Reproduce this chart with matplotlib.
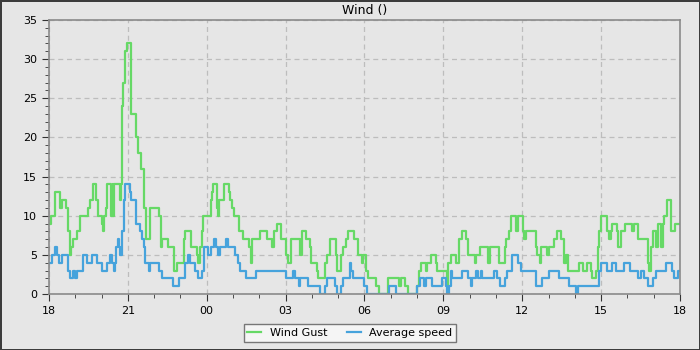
import matplotlib
matplotlib.use("Agg")
import matplotlib.pyplot as plt
from matplotlib.ticker import MultipleLocator

# hours after 18:00, value that holds until the next time
gust_hours = [0.00, 0.06, 0.23, 0.40, 0.43, 0.48, 0.64, 0.74, 0.80, 0.85, 0.90, 1.06, 1.18, 1.50,
              1.57, 1.66, 1.80, 1.85, 2.00, 2.05, 2.11, 2.15, 2.20, 2.37, 2.42, 2.45, 2.48, 2.70,
              2.74, 2.78, 2.83, 2.90, 2.96, 3.12, 3.32, 3.38, 3.50, 3.60, 3.70, 3.86, 4.18, 4.27,
              4.30, 4.52, 4.74, 4.88, 5.13, 5.18, 5.40, 5.62, 5.66, 5.74, 5.81, 5.87, 6.17, 6.19,
              6.23, 6.38, 6.42, 6.45, 6.65, 6.83, 6.90, 6.96, 7.03, 7.24, 7.37, 7.60, 7.68, 7.73,
              8.01, 8.31, 8.50, 8.56, 8.69, 8.82, 9.02, 9.08, 9.21, 9.53, 9.62, 9.78, 9.94, 9.97,
              10.19, 10.22, 10.51, 10.58, 10.67, 10.90, 10.94, 11.12, 11.19, 11.29, 11.37, 11.60,
              11.75, 11.92, 11.95, 12.05, 12.14, 12.44, 12.56, 12.91, 13.33, 13.38, 13.53, 13.65,
              14.01, 14.06, 14.14, 14.33, 14.39, 14.52, 14.71, 14.77, 15.15, 15.19, 15.28, 15.49,
              15.59, 15.70, 15.85, 15.95, 16.20, 16.23, 16.38, 16.71, 16.77, 17.11, 17.34, 17.40,
              17.49, 17.59, 17.77, 17.85, 18.04, 18.08, 18.13, 18.51, 18.57, 18.66, 18.73, 18.95,
              19.02, 19.20, 19.31, 19.46, 19.59, 19.65, 19.75, 20.16, 20.32, 20.45, 20.61, 20.67,
              20.80, 20.88, 20.92, 21.01, 21.22, 21.31, 21.37, 21.43, 21.60, 21.65, 21.75, 21.90,
              22.16, 22.26, 22.41, 22.77, 22.83, 22.90, 22.96, 23.09, 23.15, 23.28, 23.34, 23.41,
              23.50, 23.66, 23.82, 24.00]
gust_values = [9, 10, 13, 12, 11, 12, 11, 8, 5, 6, 7, 8, 10, 11,
               12, 14, 12, 10, 9, 8, 10, 11, 14, 10, 14, 10, 14, 12,
               14, 24, 27, 31, 32, 23, 20, 18, 16, 11, 7, 11, 10, 6,
               7, 6, 3, 4, 7, 8, 6, 5, 4, 6, 8, 10, 12, 13,
               14, 11, 10, 12, 14, 13, 12, 11, 10, 8, 7, 6, 4, 7,
               8, 7, 6, 8, 9, 7, 5, 4, 7, 5, 8, 7, 6, 4,
               3, 2, 4, 5, 7, 5, 3, 5, 6, 7, 8, 7,
               5, 4, 5, 3, 2, 1, 0, 2, 1, 2, 1, 0,
               1, 3, 4, 3, 4, 5, 4, 3, 1, 4, 5, 4,
               7, 8, 7, 5, 4, 5, 6, 4, 6, 4, 6, 7,
               8, 10, 8, 10, 8, 7, 8, 6, 5, 4, 6, 5,
               6, 7, 8, 7, 4, 5, 3, 4, 3, 4, 3, 2,
               3, 6, 8, 10, 8, 7, 8, 9, 8, 6, 8, 9,
               8, 9, 7, 4, 3, 6, 8, 6, 9, 6, 9, 10,
               12, 8, 9, 9]

avg_hours = [0.00, 0.10, 0.23, 0.32, 0.39, 0.48, 0.74, 0.80, 0.90, 0.99, 1.06, 1.29, 1.44, 1.63,
             1.82, 2.01, 2.20, 2.33, 2.39, 2.46, 2.52, 2.56, 2.61, 2.65, 2.71, 2.78, 2.84, 2.90,
             3.07, 3.12, 3.32, 3.48, 3.54, 3.61, 3.67, 3.80, 3.86, 4.18, 4.31, 4.70, 4.94, 5.17,
             5.27, 5.36, 5.55, 5.65, 5.81, 5.91, 6.04, 6.17, 6.29, 6.35, 6.42, 6.49, 6.73, 6.81,
             7.09, 7.19, 7.28, 7.50, 7.88, 9.01, 9.29, 9.36, 9.49, 9.55, 9.87, 10.29, 10.51, 10.58,
             10.86, 10.94, 11.12, 11.19, 11.45, 11.50, 11.58, 11.99, 12.09, 12.95, 13.21, 14.01,
             14.10, 14.27, 14.33, 14.58, 14.96, 15.09, 15.15, 15.22, 15.28, 15.34, 15.70, 15.95,
             16.04, 16.10, 16.25, 16.33, 16.42, 16.48, 16.92, 17.05, 17.14, 17.34, 17.43, 17.62,
             17.85, 17.94, 18.51, 18.53, 18.76, 19.01, 19.39, 19.78, 20.06, 20.12, 20.92, 21.01,
             21.24, 21.43, 21.56, 21.88, 22.11, 22.39, 22.52, 22.64, 22.77, 22.96, 23.09, 23.47,
             23.69, 23.79, 23.92, 24.00]
avg_values = [4, 5, 6, 5, 4, 5, 3, 2, 3, 2, 3, 5, 4, 5,
              4, 3, 4, 5, 4, 3, 4, 6, 7, 6, 5, 8, 12, 14,
              13, 12, 9, 8, 7, 6, 4, 3, 4, 3, 2, 1, 2, 4,
              5, 4, 3, 2, 3, 6, 5, 6, 7, 6, 5, 6, 7, 6,
              5, 4, 3, 2, 3, 2, 3, 2, 1, 2, 1, 0, 1, 2,
              1, 0, 1, 2, 4, 3, 2, 1, 0, 1, 0, 1,
              2, 1, 2, 1, 2, 1, 0, 1, 3, 2, 3, 2,
              1, 2, 3, 2, 3, 2, 3, 2, 1, 2, 3, 5,
              4, 3, 2, 1, 2, 3, 2, 1, 0, 1, 3, 4,
              3, 4, 3, 4, 3, 2, 3, 2, 1, 2, 3, 4,
              3, 2, 3, 3]

tick_hours = [0, 3, 6, 9, 12, 15, 18, 21, 24]
tick_labels = ["18", "21", "00", "03", "06", "09", "12", "15", "18"]

bg = "#e6e6e6"
fig = plt.figure(figsize=(7, 3.5), dpi=100, facecolor=bg, edgecolor="#3c3c3c", linewidth=2)
ax = fig.add_axes([0.07, 0.16, 0.9014, 0.7829], facecolor=bg)

ax.plot(gust_hours, gust_values, drawstyle="steps-post", color="#66d966", linewidth=1.6,
        label="Wind Gust")
ax.plot(avg_hours, avg_values, drawstyle="steps-post", color="#46a3dc", linewidth=1.6,
        label="Average speed")

ax.set_xlim(0, 24)
ax.set_ylim(0, 35)
ax.set_xticks(tick_hours)
ax.set_xticklabels(tick_labels)
ax.xaxis.set_minor_locator(MultipleLocator(1))
ax.yaxis.set_major_locator(MultipleLocator(5))
ax.yaxis.set_minor_locator(MultipleLocator(1))
ax.tick_params(which="both", direction="out", labelsize=8, colors="#333333", labelcolor="black")
ax.tick_params(which="major", length=5)
ax.tick_params(which="minor", length=3)
ax.grid(True, which="major", linestyle=(0, (4, 3)), color="#bdbdbd", linewidth=0.9)
for spine in ax.spines.values():
    spine.set_color("#8a8a8a")
    spine.set_linewidth(1.2)

ax.set_title("Wind ()", fontsize=9, pad=4)

fig.legend(loc="lower center", bbox_to_anchor=(0.5, 0.008), ncol=2, fontsize=8,
           frameon=True, fancybox=False, facecolor="#f5f5f5", edgecolor="#777777",
           framealpha=1, handlelength=1.2, columnspacing=1.8, borderpad=0.35)

fig.savefig("out.png", dpi=100, facecolor=bg, edgecolor=fig.get_edgecolor())
